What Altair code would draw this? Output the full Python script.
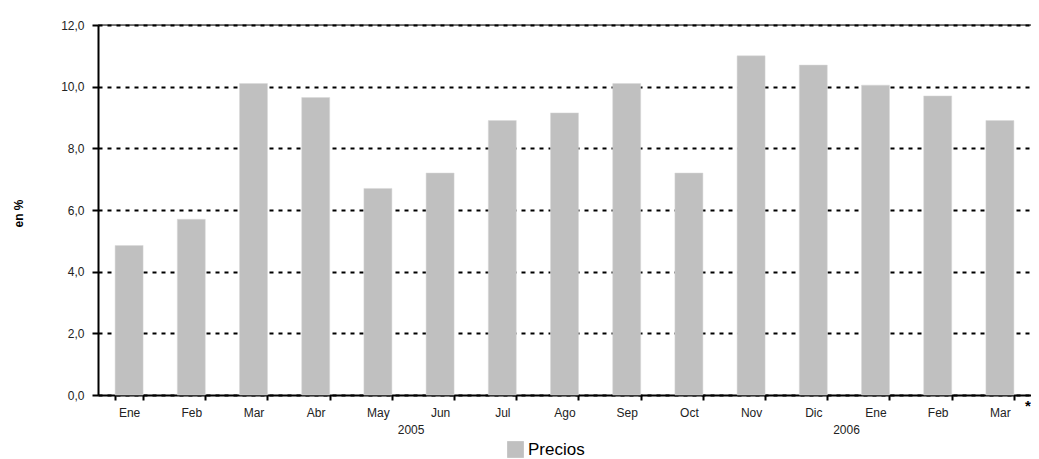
import altair as alt
import pandas as pd

months = ["Ene", "Feb", "Mar", "Abr", "May", "Jun", "Jul", "Ago", "Sep", "Oct",
          "Nov", "Dic", "Ene", "Feb", "Mar"]
years = [2005] * 12 + [2006] * 3
values = [4.85, 5.7, 10.1, 9.65, 6.7, 7.2, 8.9, 9.15, 10.1, 7.2, 11.0, 10.7, 10.05, 9.7, 8.9]
series_name = "Precios"
year_labels = ["2005", "2006"]
year_anchor = ["Jun 2005", "Ene 2006"]
y_ticks = [0, 2, 4, 6, 8, 10, 12]

cats = [f"{m} {y}" for m, y in zip(months, years)]
df = pd.DataFrame({"cat": cats, "valor": values, "serie": [series_name] * len(cats)})
df_years = pd.DataFrame({"cat": year_anchor, "label": year_labels})
df_star = pd.DataFrame({"cat": [cats[-1]], "label": ["*"]})
df_top = pd.DataFrame({"y": [12]})

FONT = "Liberation Sans"

xscale = alt.Scale(domain=cats, paddingInner=0.55, paddingOuter=0.275)
yscale = alt.Scale(domain=[0, 12], nice=False)

bars = alt.Chart(df).mark_bar(stroke="#D8D8D8", strokeWidth=0.5).encode(
    x=alt.X("cat:N", scale=xscale, sort=cats,
            axis=alt.Axis(title=None,
                          labelExpr="isValid(datum.value) ? split(datum.value, ' ')[0] : ''",
                          labelAngle=0, tickBand="extent", domainColor="black",
                          domainWidth=2, tickColor="black", tickWidth=2, tickSize=5,
                          labelFont=FONT, labelFontSize=12, labelColor="#222",
                          labelPadding=7, labelBaseline="top", grid=False)),
    y=alt.Y("valor:Q", scale=yscale,
            axis=alt.Axis(title="en %", values=y_ticks,
                          labelExpr="replace(format(datum.value, '.1f'), '.', ',')",
                          domainColor="black", domainWidth=2, tickColor="black",
                          tickWidth=2, tickSize=6, labelFont=FONT, labelFontSize=12,
                          labelColor="#222", labelPadding=8,
                          grid=True, gridColor="black", gridWidth=2, gridDash=[4, 5],
                          titleFont=FONT, titleFontSize=12, titleFontWeight="bold",
                          titleColor="black", titleAngle=-90, titleX=-80, titleY=188,
                          titleAlign="center", titleBaseline="middle")),
    color=alt.Color("serie:N", scale=alt.Scale(range=["#C0C0C0"]),
                    legend=alt.Legend(title=None, orient="none", legendX=409, legendY=416,
                                      symbolType="square", symbolSize=280,
                                      symbolStrokeWidth=0, labelFont=FONT,
                                      labelFontSize=17, labelColor="black")),
)

top_line = alt.Chart(df_top).mark_rule(color="black", strokeWidth=1).encode(
    y=alt.Y("y:Q", scale=yscale)
)

year_text = alt.Chart(df_years).mark_text(font=FONT, fontSize=12, color="#222",
                                          baseline="middle", dx=-15).encode(
    x=alt.X("cat:N", scale=xscale, sort=cats, bandPosition=0),
    y=alt.value(405),
    text="label:N",
)

star = alt.Chart(df_star).mark_text(font=FONT, fontSize=15, fontWeight="bold",
                                    color="black", baseline="middle", dx=14).encode(
    x=alt.X("cat:N", scale=xscale, sort=cats, bandPosition=1),
    y=alt.value(381),
    text="label:N",
)

chart = alt.layer(bars, top_line, year_text, star).properties(
    width=933, height=370,
    autosize=alt.AutoSizeParams(type="none"),
    padding={"left": 90, "top": 17, "right": 0, "bottom": 64},
).configure_view(stroke=None).configure(background="white")

chart.save("out.html", embed_options={"renderer": "svg", "actions": False})
